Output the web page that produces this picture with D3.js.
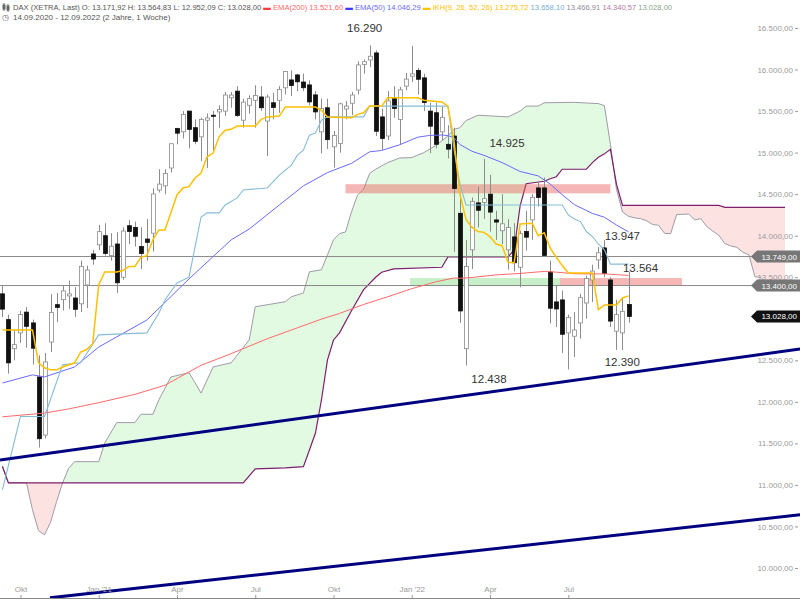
<!DOCTYPE html>
<html><head><meta charset="utf-8">
<script src="https://cdn.jsdelivr.net/npm/d3@7"></script>
<style>body{margin:0;background:#fff;}svg{display:block;font-family:"Liberation Sans",Arial,sans-serif;}</style>
</head><body><svg id="c" width="800" height="600"></svg>
<script>
// ---- DATA (weekly DAX, 14.09.2020 - 12.09.2022) ----
const startDate = "2020-09-14";
const opens = [13300,12990,12640,12830,13080,12950,12300,11600,12720,13170,
13230,13275,13250,13180,13407,13780,13890,14000,13760,13900,
13500,14120,14100,13870,13960,14030,14550,14600,14815,15290,
15250,15500,15300,15190,15390,15450,15490,15500,15660,15740,
15390,15570,15630,15670,15380,15600,15630,15780,15875,15935,
15850,15815,15695,15250,15540,15070,15110,15525,15594,15754,
16060,16115,16200,15430,15200,15650,15400,15800,15920,15990,
15900,15500,15480,15250,15100,15200,14270,12640,13830,14395,
14400,14500,14190,14060,13830,13985,13620,14050,14190,14575,
14575,13564,13203,13227,12830,12790,12950,13190,13467,13708,
13853,13467,12850,12830,13171.92];
const highs = [13400,13050,12870,13095,13140,12990,12560,12590,13297,13310,
13400,13460,13380,13700,13640,13830,14130,14150,14030,14040,
14100,14190,14170,14100,14200,14570,14800,14800,15110,15300,
15500,15500,15400,15420,15470,15500,15570,15730,15730,15800,
15650,15690,15810,15800,15700,15720,15800,15980,15990,15950,
15950,15870,15740,15650,15650,15260,15600,15620,15730,16100,
16120,16290,16230,15530,15740,15800,15790,15960,16285,16020,
15950,15600,15600,15550,15330,15300,14500,13950,14460,14590,
14925,14730,14300,14500,14200,14150,14060,14300,14500,14650,
14700,13700,13400,13340,13050,13080,13300,13520,13650,13865,
13947,13500,13230,13260,13564.83];
const lows = [13020,12340,12500,12710,12650,12450,11450,11560,12600,12960,
13100,13120,13020,13080,13130,13650,13830,13760,13700,13310,
13470,13900,13870,13600,13700,13810,14520,14500,14760,15100,
15170,15050,15100,14900,14816,15030,15300,15440,15540,15430,
15300,15470,15300,15500,14960,15400,15480,15700,15680,15740,
15740,15570,15400,14990,15045,14820,15000,15400,15450,15700,
15950,16030,15200,15030,15150,15420,15100,15750,15850,15700,
15500,14995,15050,15150,14930,13807,12950,12438,13600,14100,
14200,14050,13950,13900,13590,13570,13380,13820,13950,14350,
13750,12944,12900,12590,12391,12540,12760,13000,13200,13600,
13500,12900,12625,12625,12952.09];
const closes = [13116,12469,12689,13051,12909,12646,11556,12480,13077,13137,
13335,13299,13114,13631,13587,13719,14049,13787,13873,13433,
14056,14050,13993,13786,13920,14502,14621,14748,15107,15234,
15459,15280,15136,15400,15417,15437,15520,15693,15693,15448,
15608,15650,15688,15540,15669,15544,15761,15977,15808,15852,
15781,15610,15490,15532,15156,15206,15587,15560,15694,16055,
16094,16160,15257,15170,15623,15532,15756,15885,15948,15883,
15603,15318,15100,15425,15042,14567,13094,13628,14413,14306,
14446,14284,14164,14143,14098,13674,14027,13982,14462,14461,
13762,13127,13118,12813,13015,12865,13254,13484,13574,13795,
13544,12972,13050,13088,13028.00];

// indicator lines: [week index, value]
const ema200 = [[0,11820],[7,11865],[11,11915],[16,11990],[22,12090],[27,12200],[33,12440],[38,12580],[44,12760],[49,12891],[53,12996],[56,13064],[60,13172],[64,13265],[68,13362],[72,13445],[75,13491],[76,13487],[78,13497],[82,13528],[86,13546],[90,13570],[92,13561],[95,13542],[98,13539],[100,13541],[102,13531],[104,13521.60]];
const ema50 = [[0,12227],[5,12325],[7,12300],[12,12420],[16,12660],[24,12985],[31,13480],[38,13950],[41,14080],[46,14370],[50,14600],[54,14760],[58,14871],[61,15010],[63,15026],[66,15095],[69,15186],[71,15207],[73,15212],[74,15205],[75,15180],[76,15098],[78,15016],[80,14967],[83,14880],[86,14773],[89,14720],[91,14621],[93,14493],[95,14374],[98,14268],[100,14222],[102,14129],[104,14046.29]];
const tenkan = [[0,12866],[5,12866],[6,12470],[7,12410],[8,12385],[9,12385],[10,12420],[12,12470],[13,12600],[14,12630],[15,12700],[16,13407],[17,13564],[19,13564],[20,13580],[21,13630],[22,13630],[23,13740],[24,13760],[25,13950],[26,14070],[27,14070],[28,14280],[29,14490],[30,14575],[31,14590],[32,14695],[33,14755],[34,14950],[35,14995],[36,15190],[37,15270],[38,15280],[39,15320],[42,15320],[43,15400],[44,15430],[46,15440],[47,15550],[52,15550],[53,15510],[54,15430],[58,15420],[59,15460],[60,15480],[61,15560],[63,15560],[64,15660],[69,15660],[70,15630],[73,15610],[74,15560],[75,15150],[76,14500],[77,14200],[78,14100],[79,14050],[80,14040],[81,13990],[82,13900],[83,13880],[84,13680],[85,13675],[86,14140],[88,14150],[89,14000],[90,14035],[91,13850],[92,13740],[93,13640],[94,13552],[98,13552],[99,13110],[100,13167],[102,13167],[103,13250],[104,13275.72]];
const kijun = [[0,10940],[3,11823],[7,11823],[10,12445],[13,12470],[16,12806],[24,12830],[26,13070],[27,13227],[29,13430],[31,13500],[32,13865],[33,14225],[34,14275],[36,14275],[37,14370],[39,14455],[40,14550],[44,14575],[46,14730],[48,14850],[49,14970],[50,15030],[51,15210],[52,15235],[53,15390],[54,15430],[60,15430],[61,15560],[74,15560],[75,15048],[76,14620],[77,14370],[93,14370],[94,14250],[95,14200],[96,14170],[97,14050],[98,13990],[99,13900],[100,13830],[101,13658.10],[104,13658.10]];
const spanA = [[0,11230],[1,11025],[4,11025],[5,10700],[6,10450],[7,10400],[8,10550],[9,10800],[10,11025],[11,11200],[12,11280],[16,11280],[17,11505],[19,11750],[22,11750],[23,11850],[25,11850],[26,12025],[28,12300],[31,12350],[32,12230],[33,12105],[35,12420],[38,12470],[41,12745],[42,13145],[47,13205],[48,13265],[50,13310],[51,13565],[53,13590],[55,13950],[56,14025],[57,14045],[58,14290],[59,14490],[60,14560],[61,14750],[62,14800],[63,14840],[64,14880],[66,14935],[68,14940],[70,15000],[72,15085],[74,15200],[75,15280],[76,15300],[77,15385],[79,15450],[84,15430],[86,15500],[87,15560],[89,15560],[90,15600],[95,15605],[99,15590],[100,15565],[101,15099],[102,14560],[103,14285],[104,14233],[105,14215],[106,14205],[107,14180],[108,14135],[109,14125],[110,14028],[111,14025],[112,14255],[114,14260],[115,14190],[116,14205],[117,14110],[118,14055],[119,14005],[120,13905],[121,13876],[122,13860],[123,13800],[124,13770],[125,13505],[126,13498],[127,13412],[128,13412],[129,13455],[130,13466.91]];
const spanB = [[0,11221],[1,11025],[40,11025],[42,11193],[47,11205],[50,11220],[51,11420],[52,11625],[53,12025],[54,12505],[55,12745],[56,12830],[58,13100],[60,13350],[62,13500],[63,13560],[65,13600],[73,13620],[74,13744],[84,13744],[85,13830],[86,14360],[87,14625],[90,14655],[91,14685],[92,14710],[93,14800],[97,14800],[98,14880],[99,14945],[100,14985],[101,15040],[102,14620],[103,14364],[119,14364],[120,14340.57],[130,14340.57]];

// drawn objects
const hLevels = [13749, 13400];
const zones = [
  {i0:57, i1:101, lo:14510, hi:14620, kind:"res"},
  {i0:67.7, i1:92.6, lo:13400, hi:13490, kind:"sup"},
  {i0:92.6, i1:112.9, lo:13400, hi:13490, kind:"res"}
];
const trendUpper = [[-0.4,11301],[132.5,12637]];
const trendLower = [[7.9,9641],[132.5,10640]];
const marks = [[61,16290],[80,14925],[100,13947],[104,13564],[77,12438],[94,12390]];

const yTicks = [10000,10500,11000,11500,12000,12500,13500,14000,14500,15000,15500,16000,16500];
const tickIdx = [3,16,29,42,55,68,81,94];
const tickLabels = ["Okt","Jan '21","Apr","Jul","Okt","Jan '22","Apr","Jul"];

// ---- CHART ----
const loc = d3.formatLocale({decimal:",",thousands:".",grouping:[3],currency:["","€"]});
const f2 = loc.format(",.2f"), f0 = loc.format(",d");
const svg = d3.select("#c");
const x = d3.scaleLinear().domain([0,104]).range([2.4,628.5]);
const y = d3.scaleLinear().domain([10000,16500]).range([568,28]);
const W = 800, H = 600;

const defs = svg.append("defs");
defs.append("clipPath").attr("id","plot").append("rect").attr("x",0).attr("y",22).attr("width",W).attr("height",576);
const pts = arr => arr.map(d=>[x(d[0]),y(d[1])]);
const B = pts(spanB), A = pts(spanA);
const aboveB = "M"+B[0][0]+",0L"+B.map(p=>p.join(",")).join("L")+"L"+B[B.length-1][0]+",0Z";
const belowB = "M"+B[0][0]+","+H+"L"+B.map(p=>p.join(",")).join("L")+"L"+B[B.length-1][0]+","+H+"Z";
defs.append("clipPath").attr("id","aboveB").append("path").attr("d",aboveB);
defs.append("clipPath").attr("id","belowB").append("path").attr("d",belowB);
const cloudPoly = "M"+A.map(p=>p.join(",")).join("L")+"L"+B.slice().reverse().map(p=>p.join(",")).join("L")+"Z";

const g = svg.append("g").attr("clip-path","url(#plot)");
g.append("path").attr("d",cloudPoly).attr("fill","#e2fae2").attr("clip-path","url(#aboveB)");
g.append("path").attr("d",cloudPoly).attr("fill","#fde2e2").attr("clip-path","url(#belowB)");

const line = d3.line().x(d=>x(d[0])).y(d=>y(d[1]));
g.append("path").attr("d",line(spanA)).attr("fill","none").attr("stroke","#a09aa8").attr("stroke-width",1);
g.append("path").attr("d",line(spanB)).attr("fill","none").attr("stroke","#7d1f6d").attr("stroke-width",1.2);

// zones
zones.forEach(z=>{
  g.append("rect").attr("x",x(z.i0)).attr("width",x(z.i1)-x(z.i0))
   .attr("y",y(z.hi)).attr("height",y(z.lo)-y(z.hi))
   .attr("fill", z.kind==="res" ? "rgba(232,95,90,0.45)" : "rgba(110,215,110,0.38)");
});

// horizontal levels
hLevels.forEach(v=>{
  g.append("line").attr("x1",0).attr("x2",754).attr("y1",y(v)).attr("y2",y(v))
   .attr("stroke","#8a8a8a").attr("stroke-width",1);
});

// candles
const idx = d3.range(closes.length);
const bw = 4;
const cg = g.append("g");
cg.selectAll("line.w").data(idx).join("line").attr("class","w")
  .attr("x1",i=>Math.round(x(i))+0.5).attr("x2",i=>Math.round(x(i))+0.5)
  .attr("y1",i=>y(highs[i])).attr("y2",i=>y(lows[i]))
  .attr("stroke","#8c8c8c").attr("stroke-width",1);
cg.selectAll("rect.b").data(idx).join("rect").attr("class","b")
  .attr("x",i=>Math.round(x(i))-bw/2+0.5).attr("width",bw)
  .attr("y",i=>y(Math.max(opens[i],closes[i])))
  .attr("height",i=>Math.max(1,Math.abs(y(opens[i])-y(closes[i]))))
  .attr("fill",i=>closes[i]>=opens[i]?"#ffffff":"#111111")
  .attr("stroke",i=>closes[i]>=opens[i]?"#8c8c8c":"#111111").attr("stroke-width",0.8);

// indicator lines
g.append("path").attr("d",line(ema200)).attr("fill","none").attr("stroke","#ff6a6a").attr("stroke-width",1);
g.append("path").attr("d",line(ema50)).attr("fill","none").attr("stroke","#6a6aff").attr("stroke-width",1);
g.append("path").attr("d",line(kijun)).attr("fill","none").attr("stroke","#86bcd8").attr("stroke-width",1.1);
g.append("path").attr("d",line(tenkan)).attr("fill","none").attr("stroke","#ffc000").attr("stroke-width",1.5);

// trend lines
[trendUpper,trendLower].forEach(t=>{
  g.append("path").attr("d",line(t)).attr("stroke","#000080").attr("stroke-width",3).attr("fill","none");
});

// price annotations
const off = [[-5,-13],[23,-12],[18,0],[12,0],[23,18],[54,-3]];
marks.forEach((m,k)=>{
  svg.append("text").attr("x",x(m[0])+off[k][0]).attr("y",y(m[1])+off[k][1])
    .attr("text-anchor","middle").attr("fill","#333").style("font-size","11.5px").text(f0(m[1]));
});

// right axis
const yAxis = d3.axisLeft(y).tickValues(yTicks).tickFormat(f2).tickSize(3).tickPadding(2);
svg.append("g").attr("transform","translate(798,0)").call(yAxis)
  .call(a=>a.select(".domain").remove())
  .call(a=>a.selectAll("text").attr("fill","#9a9a9a").style("font-size","8px").style("font-family","Liberation Sans, Arial"))
  .call(a=>a.selectAll("line").attr("stroke","#9a9a9a"));

// bottom axis
const xAxis = d3.axisTop(x).tickValues(tickIdx).tickFormat((d,i)=>tickLabels[i]).tickSize(3).tickPadding(3);
svg.append("g").attr("transform","translate(0,598)").call(xAxis)
  .call(a=>a.select(".domain").remove())
  .call(a=>a.selectAll("text").attr("fill","#9a9a9a").style("font-size","8px").style("font-family","Liberation Sans, Arial"))
  .call(a=>a.selectAll("line").attr("stroke","#9a9a9a"));
svg.append("line").attr("x1",0).attr("x2",W).attr("y1",598.5).attr("y2",598.5).attr("stroke","#8a8a8a");

// value labels on right
function tag(v, fill){
  const yc = y(v);
  svg.append("path").attr("d",`M751,${yc}L757,${yc-6}L800,${yc-6}L800,${yc+6}L757,${yc+6}Z`).attr("fill",fill);
  svg.append("text").attr("x",797).attr("y",yc+3).attr("text-anchor","end").attr("fill","#fff")
    .style("font-size","8px").text(f2(v));
}
hLevels.forEach(v=>tag(v,"#777777"));
tag(closes[closes.length-1],"#111111");

// header
const icon = svg.append("g").attr("stroke","#666");
[[4,3,11,5,9],[8,4,12,6,10]].forEach(c=>{
  icon.append("line").attr("x1",c[0]).attr("x2",c[0]).attr("y1",c[1]).attr("y2",c[2]);
  icon.append("rect").attr("x",c[0]-1).attr("y",c[3]).attr("width",2).attr("height",c[4]-c[3]).attr("fill","#666");
});
const n = closes.length-1;
const segs = [
  ["DAX (XETRA, Last) O: "+f2(opens[n])+" H: "+f2(highs[n])+" L: "+f2(lows[n])+" C: "+f2(closes[n])+" ","#555"],
  ["▬ ","#ff3b3b"],["EMA(200) "+f2(ema200[ema200.length-1][1])+" ","#ff6a6a"],
  ["▬ ","#3b3bff"],["EMA(50) "+f2(ema50[ema50.length-1][1])+" ","#6a6aff"],
  ["▬ ","#ffc000"],["IKH(9, 26, 52, 26) "+f2(tenkan[tenkan.length-1][1])+" ","#ffc000"],
  [f2(kijun[kijun.length-1][1])+" ","#74aed6"],
  [f2(spanA[spanA.length-1][1])+" ","#8f889c"],
  [f2(spanB[spanB.length-1][1])+" ","#b07a9c"],
  [f2(closes[n]),"#8aa58a"]
];
const ht = svg.append("text").attr("x",13).attr("y",10).style("font-size","7.6px").style("white-space","pre");
segs.forEach(s=>ht.append("tspan").attr("fill",s[1]).text(s[0]));
svg.append("text").attr("x",2).attr("y",20).style("font-size","8px").attr("fill","#666").text("◷");
svg.append("text").attr("x",13).attr("y",20).style("font-size","8px").attr("fill","#555")
  .text("14.09.2020 - 12.09.2022 (2 Jahre, 1 Woche)");
</script></body></html>
